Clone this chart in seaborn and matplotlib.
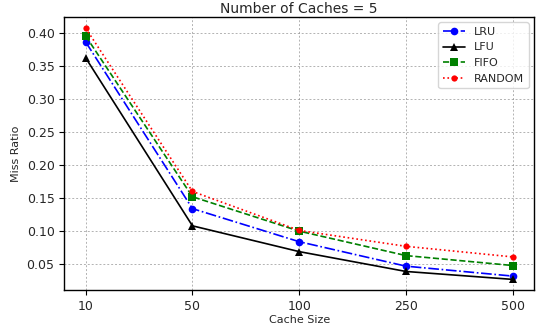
import pandas as pd
import matplotlib
matplotlib.use('Agg')
import matplotlib.pyplot as plt
import seaborn as sns

# データ
cache_sizes = ['10', '50', '100', '250', '500']
lru = [0.386, 0.134, 0.084, 0.047, 0.032]
lfu = [0.362, 0.108, 0.069, 0.039, 0.027]
fifo = [0.395, 0.152, 0.100, 0.063, 0.048]
random_ = [0.407, 0.160, 0.101, 0.077, 0.061]

series = {'LRU': lru, 'LFU': lfu, 'FIFO': fifo, 'RANDOM': random_}
styles = {
    'LRU': dict(color='blue', linestyle='-.', marker='o', markersize=5.5),
    'LFU': dict(color='black', linestyle='-', marker='^', markersize=5.5),
    'FIFO': dict(color='green', linestyle='--', marker='s', markersize=5.5),
    'RANDOM': dict(color='red', linestyle=':', marker='o', markersize=4.5),
}

sns.set_style('ticks')
plt.rcParams['font.family'] = ['DejaVu Sans']

fig, ax = plt.subplots(figsize=(5.45, 3.24), dpi=100)
for name, vals in series.items():
    df = pd.DataFrame({'size': cache_sizes, 'ratio': vals})
    sns.lineplot(data=df, x='size', y='ratio', ax=ax, label=name,
                 linewidth=1.2, markeredgewidth=0, sort=False, **styles[name])

ax.set_xlim(-0.2, 4.2)
ax.set_ylim(0.011, 0.424)
ax.set_yticks([0.05, 0.10, 0.15, 0.20, 0.25, 0.30, 0.35, 0.40])
ax.grid(True, linestyle=(0, (2, 2)), color='gray', alpha=0.6, linewidth=0.7)
ax.set_title('Number of Caches = 5', fontsize=10, pad=3)
ax.set_xlabel('Cache Size', fontsize=8, labelpad=2)
ax.set_ylabel('Miss Ratio', fontsize=8)
ax.tick_params(labelsize=9, color='black')
for s in ax.spines.values():
    s.set_linewidth(1.0)
    s.set_color('black')
ax.legend(loc='upper right', fontsize=8)

plt.subplots_adjust(left=0.118, right=0.98, top=0.948, bottom=0.105)
plt.savefig('out.png', dpi=100)
plt.close()
